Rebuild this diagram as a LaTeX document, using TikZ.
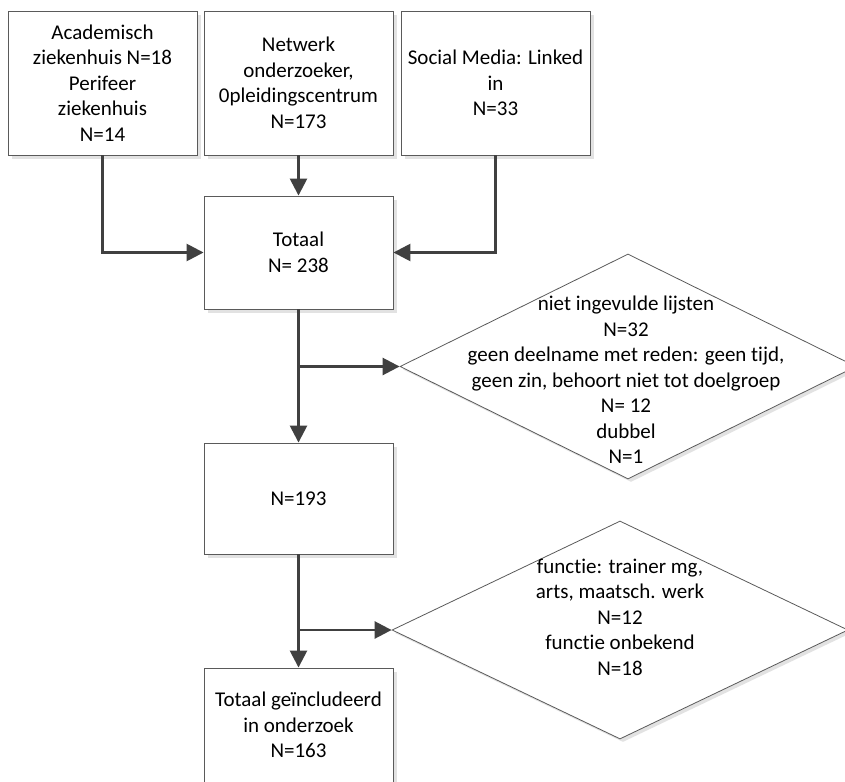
\documentclass[tikz,border=0pt]{standalone}
\usepackage{fontspec}
\setmainfont{Carlito}[Ligatures=NoCommon]
\usetikzlibrary{arrows.meta,shapes.geometric,shadows}
\definecolor{arrowgray}{HTML}{404040}
\definecolor{bordergray}{HTML}{5A5A5A}
\definecolor{shadowgray}{HTML}{E2E2E2}
\begin{document}
\begin{tikzpicture}[x=1pt,y=-1pt,
  txt/.style={font=\fontsize{21}{25.5}\selectfont, align=center, text=black},
  boxnode/.style={draw=bordergray, line width=0.9pt, fill=white, rectangle, inner sep=0pt,
     minimum width=189pt, txt,
     drop shadow={shadow xshift=4pt, shadow yshift=-4pt, fill=shadowgray, opacity=1}},
  dianode/.style={draw=bordergray, line width=0.8pt, fill=white, diamond, inner sep=0pt,
     drop shadow={shadow xshift=3pt, shadow yshift=-3pt, fill=shadowgray, opacity=1}},
  conn/.style={draw=arrowgray, line width=2.6pt},
  arr/.style={conn, -{Triangle[length=17pt,width=17pt]}}
]
\useasboundingbox (0,0) rectangle (845,781);
\fill[white] (0,0) rectangle (845,781);

\node[boxnode, minimum height=144pt] (b1) at (102.5,83) {Academisch\\ziekenhuis N=18\\Perifeer\\ziekenhuis\\N=14};
\node[boxnode, minimum height=144pt] (b2) at (298.5,83) {Netwerk\\onderzoeker,\\0pleidingscentrum\\N=173};
\node[boxnode, minimum height=144pt] (b3) at (495.5,83) {Social Media: Linked\\in\\N=33};
\node[boxnode, minimum height=113pt] (tot) at (298.5,252.5) {Totaal\\N= 238};
\node[boxnode, minimum height=111pt] (n193) at (298.5,498.5) {N=193};
\node[boxnode, minimum height=114pt] (fin) at (298.5,725) {Totaal geïncludeerd\\in onderzoek\\N=163};

\node[dianode, minimum width=456pt, minimum height=225pt] (d1) at (628,366.5) {};
\node[txt] (d1t) at (626,380) {niet ingevulde lijsten\\N=32\\geen deelname met reden: geen tijd,\\geen zin, behoort niet tot doelgroep\\N= 12\\dubbel\\N=1};
\node[dianode, minimum width=456pt, minimum height=218pt] (d2) at (620,630) {};
\node[txt] (d2t) at (620,617) {functie: trainer mg,\\arts, maatsch. werk\\N=12\\functie onbekend\\N=18};

\coordinate (j1) at (tot.south |- d1.west);
\coordinate (j2) at (n193.south |- d2.west);

\draw[arr] (b1.south) |- (tot.west);
\draw[arr] (b2.south) -- (tot.north);
\draw[arr] (b3.south) |- (tot.east);
\draw[arr] (tot.south) -- (n193.north);
\draw[arr] (j1) -- (d1.west);
\draw[arr] (n193.south) -- (fin.north);
\draw[arr] (j2) -- (d2.west);
\end{tikzpicture}
\end{document}
